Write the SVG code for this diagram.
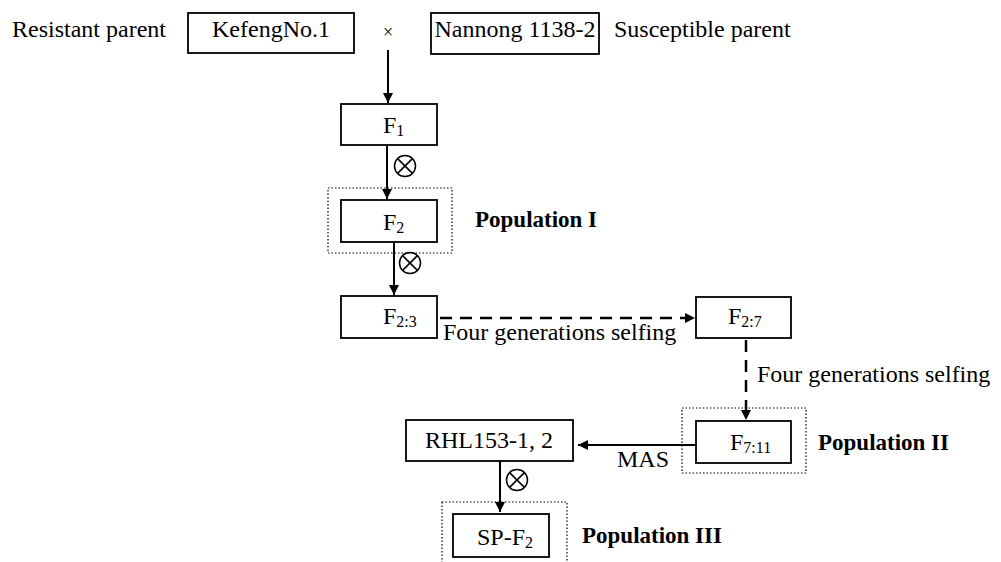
<svg xmlns="http://www.w3.org/2000/svg" width="1001" height="562" viewBox="0 0 1001 562" font-family="'Liberation Serif', 'Times New Roman', serif">
<defs>
<style>
text{font-family:"Liberation Serif","Times New Roman",serif;font-size:24px;fill:#000}
.b{font-weight:bold;font-size:23px}
.s{font-size:16px}
.box{fill:#fff;stroke:#000;stroke-width:1.8}
.dot{fill:none;stroke:#000;stroke-width:1.2;stroke-dasharray:1.5 2}
.ln{fill:none;stroke:#000;stroke-width:2}
.dash{fill:none;stroke:#000;stroke-width:2.5;stroke-dasharray:12 8}
.c{fill:none;stroke:#000;stroke-width:1.5}
</style>
<marker id="ah" viewBox="0 0 10 10" refX="10" refY="5" markerWidth="5" markerHeight="5" orient="auto" markerUnits="strokeWidth"><path d="M0,0 L10,5 L0,10 z" fill="#000"/></marker>
<marker id="ah2" viewBox="0 0 10 10" refX="10" refY="5" markerWidth="4" markerHeight="4" orient="auto" markerUnits="strokeWidth"><path d="M0,0 L10,5 L0,10 z" fill="#000"/></marker>
<g id="otimes"><circle cx="0" cy="0" r="10.5" class="c"/><path d="M-7.4,-7.4 L7.4,7.4 M-7.4,7.4 L7.4,-7.4" class="c"/></g>
</defs>
<rect width="1001" height="562" fill="#fff"/>
<g id="dotted-frames">
<rect x="328" y="188" width="124" height="65" class="dot"/>
<rect x="682" y="408" width="124" height="65" class="dot"/>
<rect x="442" y="502" width="125" height="70" class="dot"/>
</g>
<g id="connectors">
<path d="M388,50 V103" class="ln" marker-end="url(#ah)"/>
<path d="M387,146 V199" class="ln" marker-end="url(#ah)"/>
<use href="#otimes" x="405" y="166"/>
<path d="M394,243 V295" class="ln" marker-end="url(#ah)"/>
<use href="#otimes" x="410" y="263"/>
<path d="M440,318 H695" class="dash" marker-end="url(#ah2)"/>
<path d="M746,340 V420" class="dash" stroke-dasharray="8 6" marker-end="url(#ah2)"/>
<path d="M696,445 H578" class="ln" marker-end="url(#ah)"/>
<path d="M500,461 V512" class="ln" marker-end="url(#ah)"/>
<use href="#otimes" x="517" y="480"/>
<text x="443" y="340">Four generations selfing</text>
<text x="757" y="382">Four generations selfing</text>
<text x="617" y="467">MAS</text>
</g>
<g id="resistant-label"><text x="12" y="37">Resistant parent</text></g>
<g id="kefeng"><rect x="188" y="13" width="166" height="40" class="box"/><text x="271" y="37" text-anchor="middle">KefengNo.1</text></g>
<g id="cross"><text x="388" y="38" text-anchor="middle" style="font-size:18px">×</text></g>
<g id="nannong"><rect x="431" y="13" width="168" height="41" class="box"/><text x="515" y="37" text-anchor="middle">Nannong 1138-2</text></g>
<g id="susceptible-label"><text x="614" y="37">Susceptible parent</text></g>
<g id="F1"><rect x="341" y="104" width="96" height="41" class="box"/><text x="383" y="133">F<tspan class="s" dy="3">1</tspan></text></g>
<g id="F2"><rect x="341" y="200" width="96" height="42" class="box"/><text x="383" y="230">F<tspan class="s" dy="3">2</tspan></text></g>
<g id="pop1"><text x="475" y="227" class="b">Population I</text></g>
<g id="F23"><rect x="341" y="296" width="96" height="42" class="box"/><text x="383" y="324">F<tspan class="s" dy="3">2:3</tspan></text></g>
<g id="F27"><rect x="696" y="297" width="95" height="41" class="box"/><text x="728" y="324">F<tspan class="s" dy="3">2:7</tspan></text></g>
<g id="F711"><rect x="696" y="421" width="95" height="42" class="box"/><text x="730" y="450">F<tspan class="s" dy="3">7:11</tspan></text></g>
<g id="pop2"><text x="818" y="450" class="b">Population II</text></g>
<g id="RHL"><rect x="406" y="420" width="167" height="41" class="box"/><text x="489" y="448" text-anchor="middle">RHL153-1, 2</text></g>
<g id="SPF2"><rect x="453" y="514" width="96" height="43" class="box"/><text x="477" y="545">SP-F<tspan class="s" dy="3">2</tspan></text></g>
<g id="pop3"><text x="582" y="543" class="b">Population III</text></g>
</svg>
